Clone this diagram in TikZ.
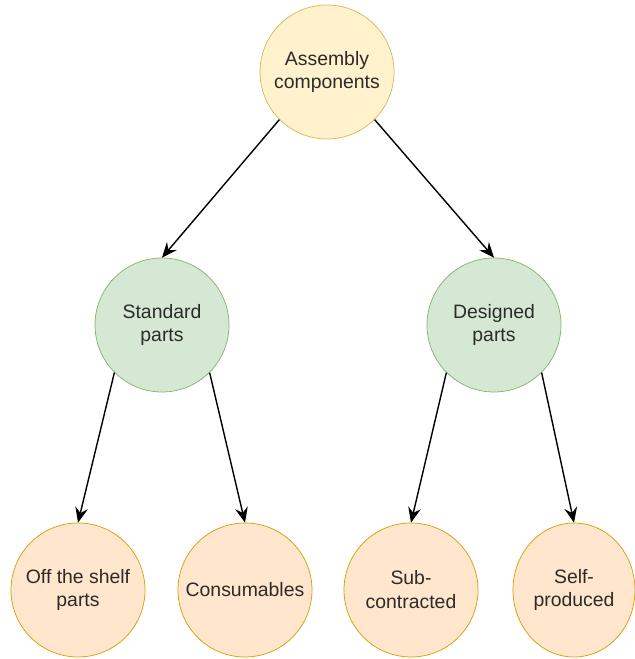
\documentclass[tikz,border=0pt]{standalone}
\usepackage{fontspec}
\setmainfont{Liberation Sans}
\usepackage{tikz}
\usetikzlibrary{arrows.meta,shapes.geometric}
\definecolor{rootfill}{HTML}{FFF2CC}
\definecolor{rootline}{HTML}{D6B656}
\definecolor{midfill}{HTML}{D5E8D4}
\definecolor{midline}{HTML}{82B366}
\definecolor{leaffill}{HTML}{FFE6CC}
\definecolor{leafline}{HTML}{D79B00}
\definecolor{txt}{HTML}{2B2B2B}
\tikzset{arr/.style = {draw = black, line width = 1pt,
                       -{Stealth[length = 3.8mm, width = 3.2mm, inset = 1.3mm]}}}
\tikzset{part/.style = {circle, inner sep = 0, minimum size = 3.35cm,
                        line width = 0.5pt, align = center, text = txt,
                        font = \fontsize{13.8}{17}\selectfont}}
\tikzset{root/.style = {part, fill = rootfill, draw = rootline}}
\tikzset{mid/.style = {part, fill = midfill, draw = midline}}
\tikzset{leaf/.style = {part, fill = leaffill, draw = leafline}}

\begin{document}
\begin{tikzpicture}
      \useasboundingbox (0, 0) rectangle (15.875, 16.475);

      \node [root] (asm) at (8.175, 14.675) {Assembly\\components};

      \node [mid] (std) at (4.05, 8.35) {Standard\\parts};
      \node [mid] (des) at (12.35, 8.35) {Designed\\parts};

      \node [leaf] (shelf) at (1.95, 1.725) {Off the shelf\\parts};
      \node [leaf] (cons) at (6.125, 1.725) {Consumables};
      \node [leaf] (sub) at (10.275, 1.725) {Sub-\\contracted};
      \node [leaf, ellipse, minimum width = 3.05cm, minimum height = 3.35cm]
            (self) at (14.35, 1.725) {Self-\\produced};

      \draw [arr] (asm.south west) -- (std.north);
      \draw [arr] (asm.south east) -- (des.north);

      \draw [arr] (std.south west) -- (shelf.north);
      \draw [arr] (std.south east) -- (cons.north);
      \draw [arr] (des.south west) -- (sub.north);
      \draw [arr] (des.south east) -- (self.north);
    \end{tikzpicture}
\end{document}
